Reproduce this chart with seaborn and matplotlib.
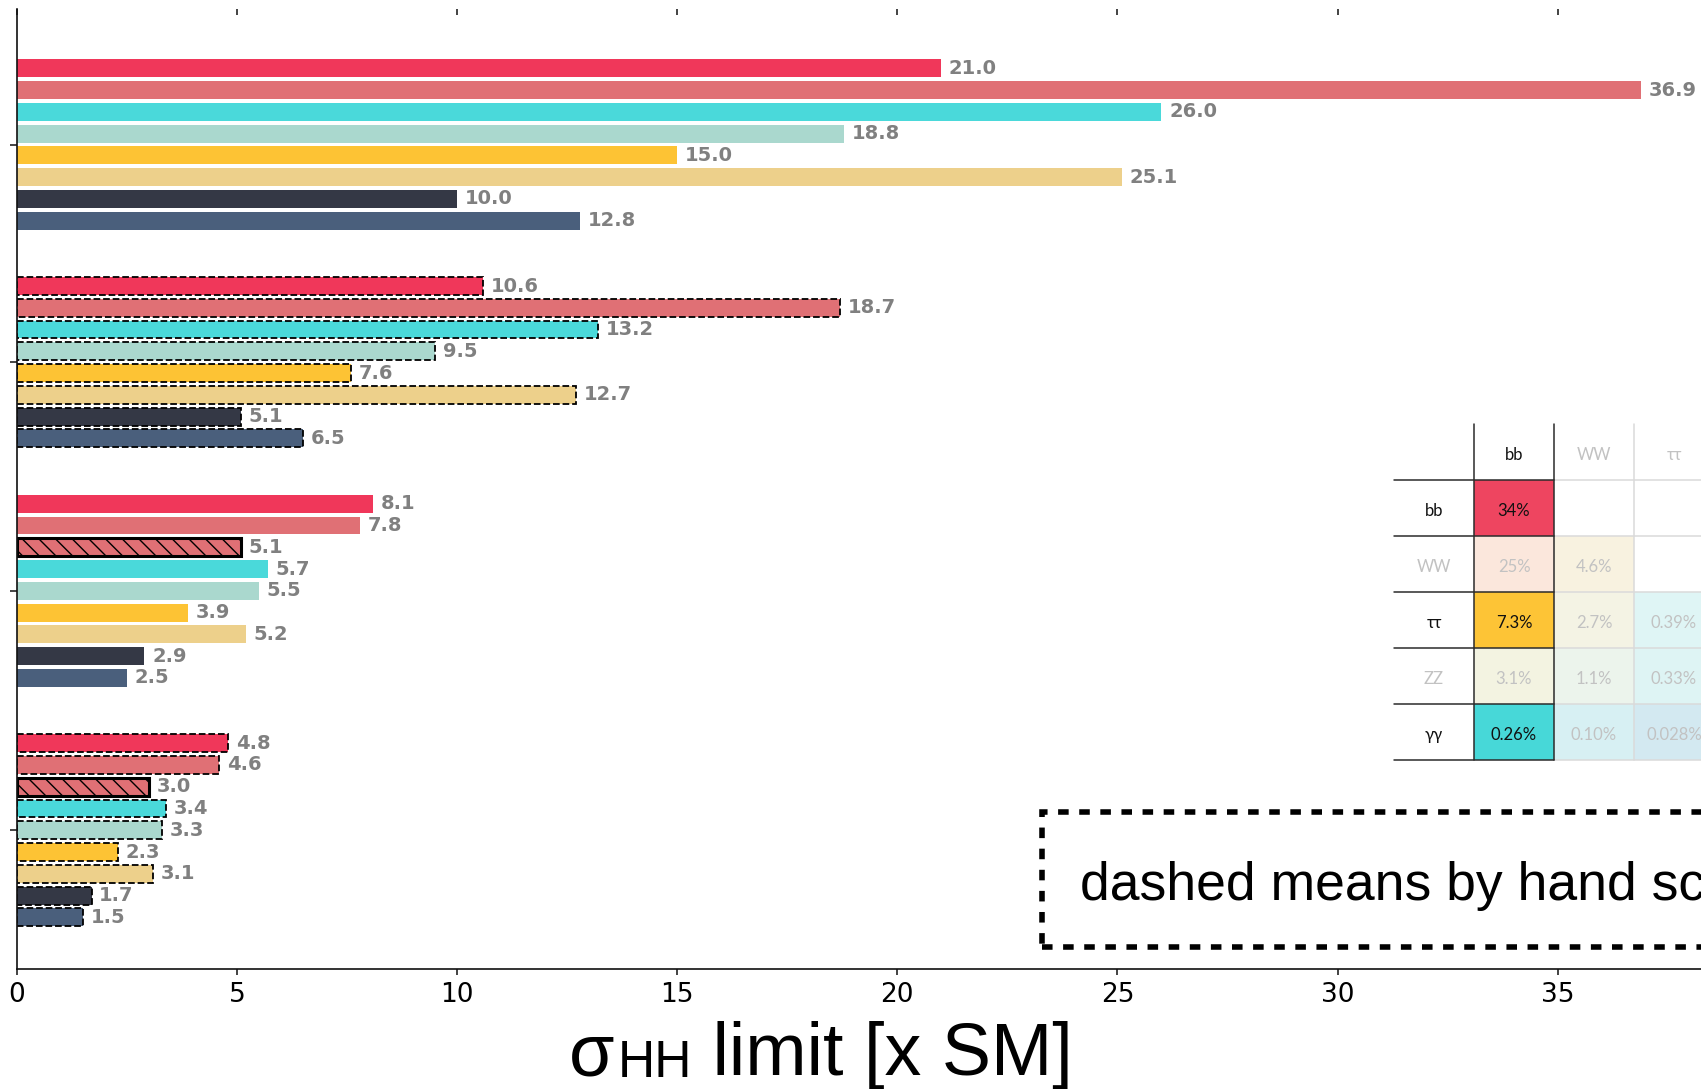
import matplotlib
matplotlib.use("Agg")
import numpy as np
import pandas as pd
import matplotlib.pyplot as plt
from matplotlib.patches import Rectangle
import seaborn as sns

# ---- limits on sigma_HH (x SM), one list per block, listed top to bottom ----
block_1 = [21.0, 36.9, 26.0, 18.8, 15.0, 25.1, 10.0, 12.8]
block_2 = [10.6, 18.7, 13.2, 9.5, 7.6, 12.7, 5.1, 6.5]
block_3 = [8.1, 7.8, 5.1, 5.7, 5.5, 3.9, 5.2, 2.9, 2.5]
block_4 = [4.8, 4.6, 3.0, 3.4, 3.3, 2.3, 3.1, 1.7, 1.5]

# bar colours for the 8-channel blocks and the 9-channel blocks
colors_8 = ["#F0375A", "#E07075", "#4AD9DA", "#AAD8CE",
            "#FDC334", "#EDD08B", "#343845", "#4A5F7C"]
colors_9 = ["#F0375A", "#E07075", "#E07075", "#4AD9DA", "#AAD8CE",
            "#FDC334", "#EDD08B", "#343845", "#4A5F7C"]

# ---- HH branching-ratio table ----
row_labels = ["bb", "WW", "ττ", "ZZ", "γγ"]
col_labels = ["bb", "WW", "ττ"]
br_text = [["34%", "", ""],
           ["25%", "4.6%", ""],
           ["7.3%", "2.7%", "0.39%"],
           ["3.1%", "1.1%", "0.33%"],
           ["0.26%", "0.10%", "0.028%"]]
br_fill = [["#EE4560", None, None],
           ["#FBE7DC", "#F8F2E0", None],
           ["#FDC436", "#F4F3E4", "#DFF5F5"],
           ["#F3F3E1", "#ECF4EC", "#DEF4F4"],
           ["#47D8D8", "#D7F0F3", "#D3E9F1"]]
strong_rows = {"bb", "ττ", "γγ"}

legend_text = "dashed means by hand scaled"
xlabel_parts = ["σ", "HH", " limit [x SM]"]

# ---- assemble long table of bars ----
blocks = [block_1, block_2, block_3, block_4]
palettes = [colors_8, colors_8, colors_9, colors_9]
dashed_block = [False, True, False, True]
starts = [0, 10, 20, 31]
recs = []
for b, (vals, pal) in enumerate(zip(blocks, palettes)):
    for i, v in enumerate(vals):
        style = "dashed" if dashed_block[b] else "solid"
        if len(vals) == 9 and i == 2:
            style = "hatched"
        recs.append(dict(slot=float(starts[b] + i), value=v,
                         color=pal[i], style=style))
df = pd.DataFrame(recs)

sns.set_style("ticks")
plt.rcParams["font.family"] = ["DejaVu Sans"]
plt.rcParams["hatch.linewidth"] = 1.0
plt.rcParams["text.color"] = "black"

W, H = 1701, 1089
fig = plt.figure(figsize=(W / 100, H / 100), dpi=100)


def fx(px):
    return px / W


def fy(py):
    return 1 - py / H


ax_left, ax_right, ax_top, ax_bot = 16.7, 1786.0, 9.3, 969.0
ax = fig.add_axes([fx(ax_left), fy(ax_bot), (ax_right - ax_left) / W,
                   (ax_bot - ax_top) / H])

sns.barplot(data=df, x="value", y="slot", orient="h", native_scale=True,
            width=0.82, errorbar=None, color="#999999", ax=ax)

slots = df["slot"].to_numpy()
bars = ax.containers[0]
labels = []
for p in bars:
    yc = p.get_y() + p.get_height() / 2
    k = int(np.argmin(np.abs(slots - yc)))
    row = df.iloc[k]
    p.set_facecolor(row["color"])
    if row["style"] == "solid":
        p.set_linewidth(0)
        p.set_edgecolor("none")
    elif row["style"] == "dashed":
        p.set_edgecolor("black")
        p.set_linestyle("--")
        p.set_linewidth(1.3)
    else:
        p.set_edgecolor("black")
        p.set_linestyle("-")
        p.set_linewidth(2.2)
        p.set_hatch("\\\\")
    labels.append(f"{row['value']:.1f}")

ax.bar_label(bars, labels=labels, padding=5.5, color="#808080",
             fontweight="bold", fontsize=14)

ax.set_xlim(0, (ax_right - ax_left) / 44.03)
ax.set_ylim(41.37, -2.71)
ax.set_yticks([3.5, 13.5, 24, 35])
ax.set_yticklabels([])
ax.set_ylabel("")
ax.set_xlabel("")
ax.set_xticks(np.arange(0, 45, 5))
ax.tick_params(axis="x", labelsize=19, length=4.5, width=1.1, pad=5,
               direction="out", color="#111111", labelcolor="black")
ax.tick_params(axis="y", length=4.8, width=1.1, direction="out",
               color="#111111")
for s in ("top", "right"):
    ax.spines[s].set_visible(False)
for s in ("left", "bottom"):
    ax.spines[s].set_color("#111111")
    ax.spines[s].set_linewidth(1.2)

sec = ax.secondary_xaxis("top")
sec.set_xticks(np.arange(0, 45, 5))
sec.tick_params(direction="in", length=4.3, width=1.1, labeltop=False,
                color="#111111")
sec.spines["top"].set_visible(False)

# ---- x-axis title: sigma with a small HH subscript, centred under the bars ----
xl_font = "Liberation Sans"
xl_size = 53
renderer = fig.canvas.get_renderer()
sizes = [xl_size, xl_size * 0.7, xl_size]
drops = [0.0, 2.3, 0.0]
pieces = [fig.text(0, 0, s, fontsize=z, family=xl_font, va="baseline",
                   ha="left", color="black")
          for s, z in zip(xlabel_parts, sizes)]
widths = [t.get_window_extent(renderer).width for t in pieces]
gap = 3.0
total = sum(widths) + gap
x_cur = 821 - total / 2
for t, w, d in zip(pieces, widths, drops):
    t.set_position((fx(x_cur), fy(1075 + d)))
    x_cur += w + (gap if t is pieces[0] else 0)

# ---- branching-ratio table ----
tx0, ty0, cw, rh = 1394, 424, 80, 56
tax = fig.add_axes([fx(tx0), fy(ty0 + 6 * rh), 4 * cw / W, 6 * rh / H])
tax.set_xlim(0, 4)
tax.set_ylim(6, 0)
tax.axis("off")
strong, faint = "#111111", "#C2C2C2"
tfont = ["Lato", "DejaVu Sans"]
tsize = 12
for r in range(5):
    for c in range(3):
        fill = br_fill[r][c]
        if fill:
            tax.add_patch(Rectangle((c + 1, r + 1), 1, 1, facecolor=fill,
                                    edgecolor="none", zorder=1))
        txt = br_text[r][c]
        if txt:
            col = strong if c == 0 and row_labels[r] in strong_rows else faint
            tax.text(c + 1.5, r + 1.55, txt, ha="center", va="center",
                     fontsize=tsize, color=col, family=tfont, zorder=3)
    tax.text(0.5, r + 1.55, row_labels[r], ha="center", va="center",
             fontsize=tsize, family=tfont, zorder=3,
             color=strong if row_labels[r] in strong_rows else faint)
for c, lab in enumerate(col_labels):
    tax.text(c + 1.5, 0.55, lab, ha="center", va="center", fontsize=tsize,
             family=tfont, color=strong if c == 0 else faint, zorder=3)
dark, light = "#2B2B2B", "#DADADA"
for yl in range(1, 7):
    tax.plot([2, 4], [yl, yl], color=light, lw=1.1, zorder=2, clip_on=False)
    tax.plot([0, 2], [yl, yl], color=dark, lw=1.1, zorder=4, clip_on=False)
tax.plot([3, 3], [0, 6], color=light, lw=1.1, zorder=2, clip_on=False)
for xl in (1, 2):
    tax.plot([xl, xl], [0, 6], color=dark, lw=1.1, zorder=4, clip_on=False)

# ---- dashed note box ----
fig.add_artist(Rectangle((fx(1042), fy(947)), (1850 - 1042) / W,
                         (947 - 812) / H, transform=fig.transFigure,
                         fill=False, edgecolor="black", linewidth=4,
                         linestyle=(0, (1.9, 1.9))))
fig.text(fx(1080), fy(900), legend_text, fontsize=38.5,
         family="Liberation Sans", va="baseline", ha="left")

fig.savefig("out.png", dpi=100)
